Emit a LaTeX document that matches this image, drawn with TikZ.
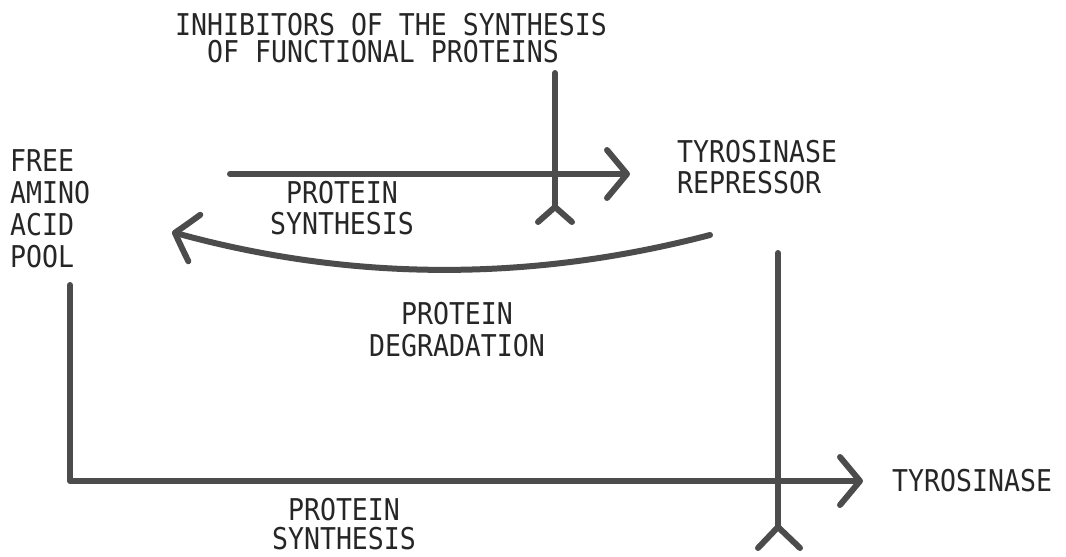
\documentclass[tikz,border=0pt]{standalone}
\usepackage{fontspec}
\newfontfamily\tw[FakeStretch=0.885]{DejaVu Sans Mono}
\usetikzlibrary{arrows.meta,bending}
\begin{document}
\begin{tikzpicture}[x=1pt,y=-1pt,
  lbl/.style={font=\tw\fontsize{30}{31}\selectfont, inner sep=0pt, text=black!85},
  wire/.style={draw=black!70, line width=6pt, line cap=round, line join=round},
  tipped/.style={-{Straight Barb[length=20pt,width=48pt,round,bend]}}]
\fill[white] (0,0) rectangle (1066,557);
\useasboundingbox (0,0) rectangle (1066,557);

% labels
\node[lbl, align=left, anchor=west, font=\tw\fontsize{30}{27}\selectfont] (hdr) at (175,38.2) {INHIBITORS OF THE SYNTHESIS\\\phantom{XX}OF FUNCTIONAL PROTEINS};
\node[lbl, align=left, anchor=west, font=\tw\fontsize{30}{32}\selectfont] (pool) at (10,209) {FREE\\AMINO\\ACID\\POOL};
\node[lbl, align=left, anchor=west] (rep) at (677,167.5) {TYROSINASE\\REPRESSOR};
\node[lbl, align=center] (synA) at (342,208.5) {PROTEIN\\SYNTHESIS};
\node[lbl, align=center, font=\tw\fontsize{30}{32}\selectfont] (deg) at (457,330) {PROTEIN\\DEGRADATION};
\node[lbl, align=center, font=\tw\fontsize{30}{29}\selectfont] (synB) at (344,524.5) {PROTEIN\\SYNTHESIS};
\node[lbl, anchor=west] (tyr) at (892,481) {TYROSINASE};

% coordinates
\coordinate (s1a) at (230,174);
\coordinate (s1b) at (630,174);
\coordinate (dA) at (710,235);
\coordinate (dB) at (172,232);
\coordinate (pA) at (70,285);
\coordinate (pC) at (70,481);
\coordinate (pB) at (863,481);
\coordinate (i1top) at (555,73);
\coordinate (i1fork) at (555,207);
\coordinate (i1l) at (538,222);
\coordinate (i1r) at (572,222);
\coordinate (i2top) at (778,253);
\coordinate (i2fork) at (778,527);
\coordinate (i2l) at (758,548);
\coordinate (i2r) at (800,548);

% synthesis of repressor
\draw[wire, tipped] (s1a) -- (s1b);
% degradation
\draw[wire, tipped] (dA) .. controls (530,282) and (350,282) .. (dB);
% synthesis of tyrosinase
\draw[wire, tipped] (pA) -- (pC) -- (pB);

% inhibitors
\draw[wire] (i1top) -- (i1fork);
\draw[wire] (i1l) -- (i1fork) -- (i1r);
\draw[wire] (i2top) -- (i2fork);
\draw[wire] (i2l) -- (i2fork) -- (i2r);
\end{tikzpicture}
\end{document}
